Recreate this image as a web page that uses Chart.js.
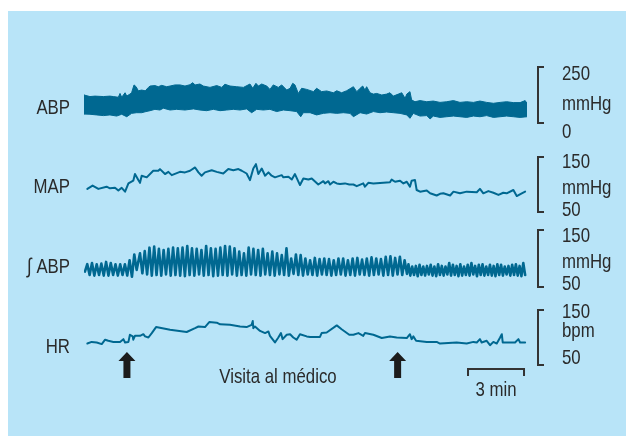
<!DOCTYPE html>
<html>
<head>
<meta charset="utf-8">
<script src="https://cdn.jsdelivr.net/npm/chart.js"></script>
<style>
  html, body { margin: 0; padding: 0; background: #fff; }
  canvas { display: block; }
</style>
</head>
<body>
<canvas id="registro" width="626" height="436"></canvas>
<script>
// tiempo en minutos, presiones en mmHg, frecuencia en lpm

// ABP: borde superior e inferior de la banda
const abpAltoT = [0.00, 0.32, 0.59, 1.04, 1.39, 1.57, 1.84, 1.93, 2.02, 2.20, 2.29, 2.46, 2.55, 2.68, 2.79, 2.91, 3.09, 3.27, 3.32, 3.45, 3.54, 3.80, 3.98, 4.16, 4.43, 4.61, 4.88, 5.14, 5.41, 5.68, 5.82, 5.95, 6.21, 6.39, 6.75, 7.11, 7.38, 7.55, 7.82, 8.18, 8.54, 8.89, 9.04, 9.21, 9.34, 9.52, 9.79, 9.96, 10.14, 10.41, 10.59, 10.86, 11.04, 11.18, 11.30, 11.48, 11.66, 11.93, 12.29, 12.46, 12.73, 13.00, 13.36, 13.54, 13.80, 14.07, 14.43, 14.61, 14.79, 14.93, 15.05, 15.14, 15.32, 15.50, 15.68, 15.95, 16.21, 16.39, 16.57, 16.84, 17.02, 17.20, 17.29, 17.46, 17.55, 17.73, 18.00, 18.36, 18.71, 19.07, 19.43, 19.79, 20.14, 20.50, 20.86, 21.21, 21.57, 21.93, 22.29, 22.64, 23.00, 23.36, 23.63, 23.73];
const abpAlto = [125, 118, 120, 118, 120, 118, 115, 132, 115, 135, 120, 129, 135, 170, 162, 144, 147, 144, 147, 159, 165, 167, 162, 168, 162, 165, 170, 170, 165, 171, 180, 170, 174, 165, 159, 167, 159, 173, 165, 162, 159, 174, 155, 177, 165, 174, 165, 150, 170, 159, 170, 147, 155, 177, 170, 132, 155, 150, 140, 155, 140, 143, 135, 144, 135, 144, 162, 140, 155, 165, 147, 162, 135, 129, 132, 125, 129, 135, 120, 129, 135, 110, 129, 140, 103, 95, 100, 95, 98, 92, 95, 100, 92, 95, 92, 98, 92, 88, 92, 95, 91, 91, 100, 88];
const abpBajoT = [0.00, 0.32, 0.68, 1.04, 1.39, 1.75, 2.02, 2.29, 2.55, 2.82, 3.09, 3.32, 3.54, 3.80, 4.07, 4.25, 4.61, 4.96, 5.41, 5.86, 6.21, 6.57, 6.93, 7.29, 7.64, 8.00, 8.36, 8.71, 8.98, 9.25, 9.61, 9.96, 10.32, 10.68, 11.04, 11.39, 11.61, 11.75, 12.11, 12.46, 12.82, 13.18, 13.54, 13.89, 14.25, 14.43, 14.79, 15.14, 15.50, 15.86, 16.21, 16.57, 16.93, 17.29, 17.46, 17.64, 18.00, 18.36, 18.54, 18.71, 19.07, 19.43, 19.79, 20.14, 20.50, 20.86, 21.21, 21.57, 21.93, 22.29, 22.64, 23.00, 23.36, 23.73];
const abpBajo = [40, 39, 36, 33, 36, 31, 39, 28, 43, 46, 46, 51, 55, 61, 58, 66, 58, 61, 58, 63, 58, 55, 61, 55, 58, 61, 58, 63, 46, 61, 58, 61, 51, 58, 55, 51, 28, 46, 46, 36, 43, 46, 43, 46, 43, 28, 46, 40, 51, 46, 49, 46, 43, 36, 21, 43, 31, 33, 18, 31, 25, 28, 31, 28, 25, 31, 28, 33, 25, 28, 31, 28, 25, 28];

// MAP
const mapT = [0.18, 0.46, 0.77, 1.21, 1.39, 1.66, 1.84, 2.02, 2.20, 2.38, 2.64, 2.73, 2.91, 3.00, 3.09, 3.36, 3.71, 3.98, 4.07, 4.34, 4.52, 4.70, 5.14, 5.41, 5.68, 5.95, 6.13, 6.30, 6.48, 6.84, 7.11, 7.46, 7.73, 8.00, 8.27, 8.45, 8.71, 8.89, 9.07, 9.21, 9.34, 9.52, 9.70, 9.88, 10.05, 10.23, 10.59, 10.68, 10.95, 11.13, 11.30, 11.57, 11.75, 12.02, 12.20, 12.55, 12.82, 12.91, 13.09, 13.18, 13.36, 13.54, 13.71, 13.98, 14.21, 14.43, 14.61, 14.96, 15.05, 15.23, 15.50, 16.39, 16.48, 16.66, 16.93, 17.11, 17.29, 17.46, 17.55, 17.73, 17.82, 18.00, 18.36, 18.54, 18.89, 19.07, 19.25, 19.61, 19.79, 20.14, 20.50, 21.04, 21.21, 21.39, 21.66, 21.93, 22.20, 22.46, 22.64, 23.00, 23.18, 23.45, 23.63];
const mapV = [92, 98, 92, 96, 93, 94, 89, 94, 87, 102, 107, 119, 108, 103, 116, 113, 125, 125, 128, 119, 123, 117, 123, 122, 125, 131, 122, 116, 122, 126, 123, 120, 128, 126, 128, 125, 120, 108, 129, 137, 119, 129, 116, 122, 116, 113, 117, 113, 114, 109, 119, 99, 111, 109, 111, 100, 106, 102, 106, 100, 105, 102, 101, 102, 100, 100, 97, 102, 96, 103, 102, 104, 109, 105, 107, 102, 105, 96, 107, 108, 90, 87, 89, 84, 80, 83, 84, 80, 87, 84, 87, 86, 92, 84, 88, 85, 81, 85, 84, 90, 79, 84, 87];

// integral de ABP: tres tramos de muestras equiespaciadas
const iabpTramos = [[0.05, 2.82], [3.00, 17.30], [17.38, 23.63]];
const iabpA = [77, 90, 71, 92, 70, 90, 71, 91, 70, 94, 70, 92, 71, 90, 70, 90, 71, 90, 70, 97, 68, 107, 80];
const iabpB = [109, 74, 113, 72, 119, 70, 121, 71, 117, 70, 115, 72, 117, 70, 119, 71, 118, 70, 119, 69, 122, 71, 118, 70, 117, 72, 115, 70, 122, 71, 118, 69, 117, 70, 119, 71, 122, 70, 121, 72, 118, 70, 112, 71, 109, 70, 119, 72, 117, 71, 115, 70, 117, 72, 109, 71, 112, 70, 109, 72, 106, 71, 118, 70, 100, 73, 107, 71, 106, 70, 100, 72, 97, 71, 101, 70, 99, 72, 100, 71, 99, 70, 97, 71, 100, 72, 100, 70, 97, 71, 100, 70, 101, 72, 98, 71, 100, 70, 102, 71, 100, 72, 99, 70, 103, 71, 104, 70, 101, 72, 103, 71, 97, 73];
const iabpC = [90, 70, 86, 71, 87, 69, 89, 71, 86, 70, 87, 72, 89, 70, 86, 69, 90, 71, 87, 70, 86, 72, 92, 70, 89, 71, 87, 69, 90, 70, 86, 71, 89, 70, 92, 72, 87, 69, 89, 71, 90, 70, 86, 71, 89, 70, 87, 69, 90, 71, 89, 70, 86, 72, 87, 70, 89, 71, 90, 70, 87, 69, 92, 71];

// HR
const hrT = [0.18, 0.41, 0.68, 0.95, 1.13, 1.30, 1.57, 1.93, 2.11, 2.20, 2.38, 2.46, 2.61, 2.64, 2.73, 3.00, 3.18, 3.27, 3.45, 3.63, 3.86, 4.61, 5.50, 5.95, 6.13, 6.48, 6.71, 7.11, 7.29, 7.82, 8.36, 8.71, 8.98, 9.04, 9.07, 9.16, 9.43, 9.70, 9.88, 9.96, 10.23, 10.41, 10.55, 10.64, 10.86, 11.04, 11.21, 11.39, 11.57, 11.93, 12.11, 12.64, 12.73, 13.00, 13.54, 13.80, 14.21, 14.43, 14.70, 14.96, 15.05, 15.50, 15.95, 16.39, 16.75, 17.29, 17.46, 17.55, 17.64, 17.79, 18.36, 18.89, 19.07, 19.96, 20.50, 20.86, 21.04, 21.21, 21.30, 21.57, 21.75, 21.93, 22.11, 22.29, 22.38, 22.43, 22.64, 23.09, 23.27, 23.36, 23.63];
const hrV = [89, 92, 91, 88, 96, 94, 92, 92, 97, 91, 92, 105, 102, 96, 103, 103, 106, 102, 100, 108, 119, 114, 110, 117, 120, 119, 128, 127, 124, 123, 120, 119, 123, 130, 117, 120, 112, 108, 111, 103, 91, 100, 108, 97, 105, 106, 100, 96, 106, 102, 101, 101, 108, 109, 122, 115, 105, 105, 108, 103, 108, 105, 99, 102, 100, 99, 106, 97, 102, 94, 92, 92, 89, 91, 89, 92, 91, 97, 91, 94, 86, 92, 89, 100, 106, 91, 91, 91, 97, 91, 91];

const duracion = 23.73;
const flechasT = [2.3, 16.8];
const barraT = [20.57, 23.57];

const H = 436;
const azul = '#006891';
const fuente = "21px 'Liberation Sans', Arial, sans-serif";

function puntos(ts, vs) {
  return vs.map(function(v, i) { return { x: ts[i], y: v }; });
}

function puntosTramos() {
  const out = [];
  [iabpA, iabpB, iabpC].forEach(function(vals, k) {
    const a = iabpTramos[k][0], b = iabpTramos[k][1];
    vals.forEach(function(v, i) {
      out.push({ x: a + (b - a) * i / (vals.length - 1), y: v });
    });
  });
  return out;
}

// rango del eje para que vTop caiga en pxTop y vBot en pxBot
function rango(vTop, pxTop, vBot, pxBot) {
  const k = (vTop - vBot) / (pxBot - pxTop);
  return { display: false, min: vBot - (H - pxBot) * k, max: vTop + pxTop * k };
}

const escalas = [
  { eje: 'yAbp', arriba: 250, abajo: 0, textos: [['250', 80], ['mmHg', 110], ['0', 138]] },
  { eje: 'yMap', arriba: 150, abajo: 50, textos: [['150', 168], ['mmHg', 194], ['50', 216]] },
  { eje: 'yInt', arriba: 150, abajo: 50, textos: [['150', 242], ['mmHg', 268], ['50', 290]] },
  { eje: 'yHr', arriba: 150, abajo: 50, textos: [['150', 318], ['bpm', 337], ['50', 364]] }
];

// texto estrecho: la fuente normal comprimida en horizontal
function texto(c, s, x, y, align) {
  c.save();
  c.translate(x, y);
  c.scale(0.8, 1);
  c.textAlign = align;
  c.textBaseline = 'alphabetic';
  c.font = fuente;
  c.fillText(s, 0, 0);
  c.restore();
}

const decorado = {
  id: 'decorado',
  beforeDraw: function(chart) {
    const c = chart.ctx;
    c.save();
    c.fillStyle = '#ffffff';
    c.fillRect(0, 0, chart.width, chart.height);
    c.fillStyle = '#b8e4f8';
    c.fillRect(8, 11, chart.width - 8, chart.height - 11);
    c.restore();
  },
  afterDraw: function(chart) {
    const c = chart.ctx;
    const x = chart.scales.x;
    c.save();
    c.fillStyle = '#2a2a2a';
    c.strokeStyle = '#333333';

    // nombres de las señales
    texto(c, 'ABP', 70, 114, 'right');
    texto(c, 'MAP', 70, 193, 'right');
    texto(c, '\u222B ABP', 70, 273, 'right');
    texto(c, 'HR', 70, 353, 'right');

    // corchetes de escala
    c.lineWidth = 2;
    escalas.forEach(function(e) {
      const s = chart.scales[e.eje];
      const y1 = Math.round(s.getPixelForValue(e.arriba));
      const y2 = Math.round(s.getPixelForValue(e.abajo));
      c.beginPath();
      c.moveTo(544, y1);
      c.lineTo(538, y1);
      c.lineTo(538, y2);
      c.lineTo(544, y2);
      c.stroke();
      e.textos.forEach(function(t) { texto(c, t[0], 562, t[1], 'left'); });
    });

    // flechas
    c.fillStyle = '#1c1c1c';
    flechasT.forEach(function(t) {
      const px = x.getPixelForValue(t);
      c.beginPath();
      c.moveTo(px, 352);
      c.lineTo(px + 8.5, 361);
      c.lineTo(px + 3.5, 361);
      c.lineTo(px + 3.5, 378);
      c.lineTo(px - 3.5, 378);
      c.lineTo(px - 3.5, 361);
      c.lineTo(px - 8.5, 361);
      c.closePath();
      c.fill();
    });

    c.fillStyle = '#2a2a2a';
    texto(c, 'Visita al m\u00e9dico', 278, 383, 'center');

    // barra de 3 min
    const b1 = x.getPixelForValue(barraT[0]);
    const b2 = x.getPixelForValue(barraT[1]);
    c.beginPath();
    c.moveTo(b1, 376);
    c.lineTo(b1, 369);
    c.lineTo(b2, 369);
    c.lineTo(b2, 376);
    c.stroke();
    texto(c, '3 min', (b1 + b2) / 2, 396, 'center');
    c.restore();
  }
};

const linea = { borderColor: azul, pointRadius: 0, tension: 0, fill: false, borderJoinStyle: 'round', borderCapStyle: 'round' };

new Chart(document.getElementById('registro').getContext('2d'), {
  type: 'line',
  data: {
    datasets: [
      Object.assign({}, linea, { label: 'ABP sup', data: puntos(abpAltoT, abpAlto), yAxisID: 'yAbp', borderWidth: 1 }),
      Object.assign({}, linea, { label: 'ABP inf', data: puntos(abpBajoT, abpBajo), yAxisID: 'yAbp', borderWidth: 1, fill: '-1', backgroundColor: azul }),
      Object.assign({}, linea, { label: 'MAP', data: puntos(mapT, mapV), yAxisID: 'yMap', borderWidth: 2 }),
      Object.assign({}, linea, { label: 'ABP int', data: puntosTramos(), yAxisID: 'yInt', borderWidth: 2.6 }),
      Object.assign({}, linea, { label: 'HR', data: puntos(hrT, hrV), yAxisID: 'yHr', borderWidth: 2 })
    ]
  },
  options: {
    responsive: false,
    animation: false,
    events: [],
    layout: { padding: { left: 84, right: 99, top: 0, bottom: 0 } },
    plugins: { legend: { display: false }, tooltip: { enabled: false } },
    scales: {
      x: { type: 'linear', display: false, min: 0, max: duracion },
      yAbp: rango(250, 67, 0, 123),
      yMap: rango(150, 157, 50, 212),
      yInt: rango(150, 230, 50, 287),
      yHr: rango(150, 310, 50, 365)
    }
  },
  plugins: [decorado]
});
</script>
</body>
</html>
